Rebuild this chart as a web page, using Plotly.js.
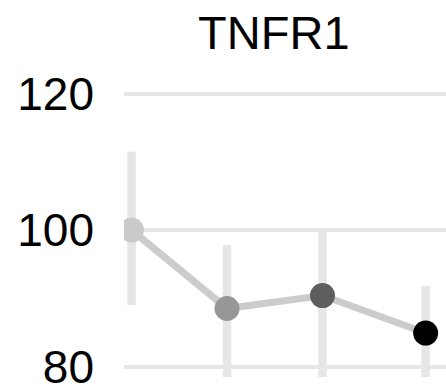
<!DOCTYPE html>
<html>
<head>
<meta charset="utf-8">
<script src="https://cdn.plot.ly/plotly-3.0.1.min.js"></script>
<style>html,body{margin:0;padding:0;background:#fff;}#chart{width:446px;height:391px;}</style>
</head>
<body>
<div id="chart"></div>
<script>
// Data
var timepoints = [0, 1, 2, 3.08];
var meanValues = [100, 88.5, 90.4, 84.9];
var errorPlus = [11.5, 9.3, 9.6, 6.9];
var errorMinus = [11.0, 11.0, 12.0, 9.0];
var pointColors = ['#cacaca', '#979797', '#5e5e5e', '#000000'];
var yTickValues = [80, 100, 120];
var yTickLabels = ['80', '100', '120'];
var chartTitle = 'TNFR1';

var trace = {
  x: timepoints,
  y: meanValues,
  type: 'scatter',
  mode: 'lines+markers',
  line: {color: '#cccccc', width: 7},
  marker: {color: pointColors, size: 25},
  error_y: {
    type: 'data',
    symmetric: false,
    array: errorPlus,
    arrayminus: errorMinus,
    color: '#e6e6e6',
    thickness: 8.5,
    width: 0
  },
  hoverinfo: 'skip',
  cliponaxis: true
};

var layout = {
  width: 446,
  height: 391,
  margin: {l: 124, r: 0, t: 80.4, b: 14},
  paper_bgcolor: '#ffffff',
  plot_bgcolor: '#ffffff',
  showlegend: false,
  font: {family: '"Liberation Sans", Arial, Helvetica, sans-serif', color: '#000000'},
  title: {
    text: chartTitle,
    font: {size: 47, color: '#000000'},
    xref: 'container', yref: 'container',
    x: 0.614, xanchor: 'center',
    y: 0.918, yanchor: 'middle'
  },
  xaxis: {
    range: [-0.0785, 3.293],
    showgrid: false, zeroline: false, showline: false,
    showticklabels: false, ticks: ''
  },
  yaxis: {
    range: [78.46, 122],
    tickvals: yTickValues,
    ticktext: yTickLabels,
    showgrid: true, gridcolor: '#e6e6e6', gridwidth: 4,
    zeroline: false, showline: false, ticks: '',
    tickfont: {size: 46, color: '#000000'},
    ticklabelstandoff: 29,
    ticklabeloverflow: 'allow'
  }
};

Plotly.newPlot('chart', [trace], layout, {displayModeBar: false, staticPlot: true});
</script>
</body>
</html>
